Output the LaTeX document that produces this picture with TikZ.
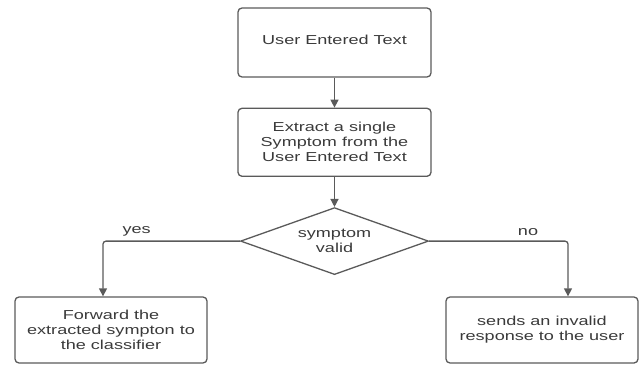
\documentclass[tikz,border=0pt]{standalone}
\usepackage{fontspec}
\setmainfont{Liberation Sans}[FakeStretch=1.39]
\usetikzlibrary{shapes.geometric, positioning, arrows.meta}
\definecolor{linegray}{HTML}{5A5A5A}
\definecolor{textgray}{HTML}{3A3A3A}
\tikzset{
  >={Triangle[length=8pt, width=8pt]},
  node distance=30pt,
  flow/.style={->, draw=linegray, line width=1.3pt, rounded corners=3pt},
  stepbox/.style={draw=linegray, line width=1.3pt, rounded corners=4pt,
    minimum width=193pt, minimum height=68pt, align=center, text=textgray,
    font=\fontsize{13}{15}\selectfont},
  decision/.style={diamond, draw=linegray, line width=1.3pt, aspect=2.8,
    minimum width=188pt, minimum height=67pt, inner sep=0pt, align=center,
    text=textgray, font=\fontsize{13}{14.5}\selectfont},
  branch/.style={text=textgray, font=\fontsize{13}{15}\selectfont},
}

\begin{document}
\begin{tikzpicture}[x=1pt, y=-1pt]
	\useasboundingbox (0,0) rectangle (641,367);

	% steps
	\node[stepbox, minimum height=69pt] (input) at (334.5,42.5) {\raisebox{5pt}{User Entered Text}};
	\node[stepbox, below=of input] (extract) {Extract a single\\Symptom from the\\User Entered Text};
	\node[decision, below=of extract] (valid) {symptom\\valid};
	\node[stepbox, minimum height=66pt, minimum width=192pt] (forward) at (111,330) {Forward the\\extracted sympton to\\the classifier};
	\node[stepbox, minimum height=66pt, minimum width=192pt] (invalid) at (542,330) {sends an invalid\\response to the user};

	% connectors
	\draw[flow] (input) -- (extract);
	\draw[flow] (extract) -- (valid);
	\draw[flow] (valid.west) -| node[branch, pos=0.377, above=1pt] {yes} ([xshift=-8pt]forward.north);
	\draw[flow] (valid.east) -| node[branch, pos=0.356, above=1pt] {no} ([xshift=26pt]invalid.north);

\end{tikzpicture}
\end{document}
